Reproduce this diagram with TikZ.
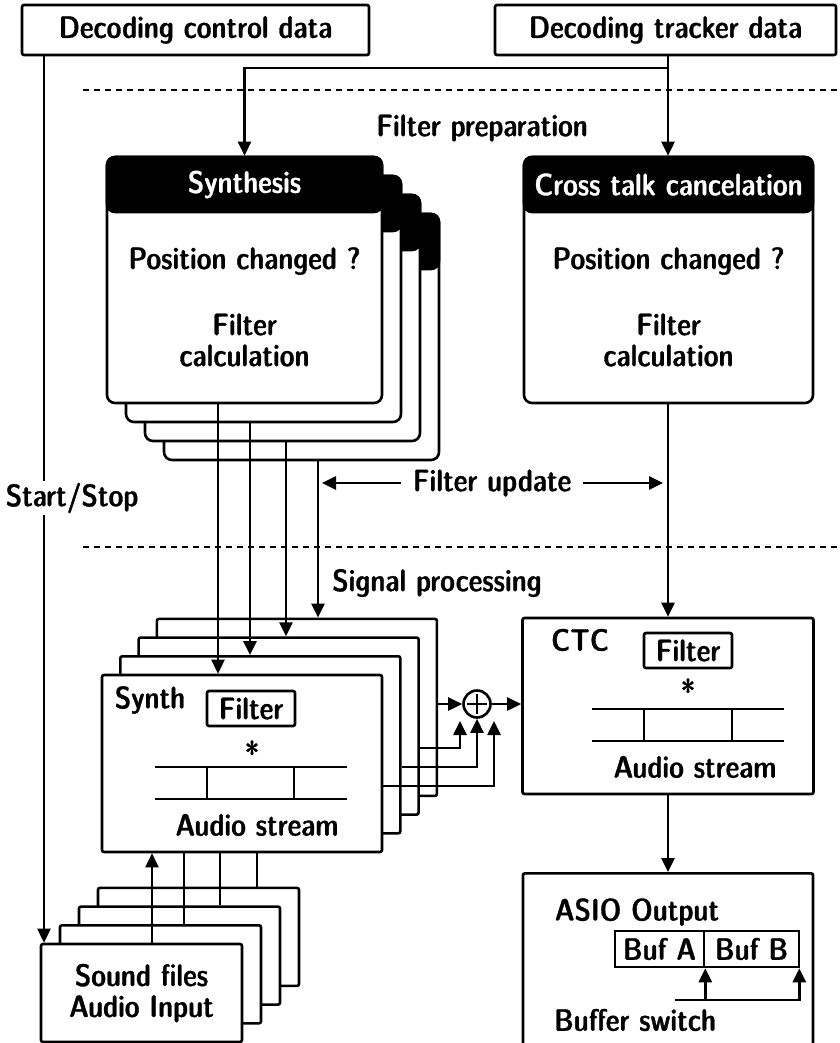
\documentclass[tikz,border=0pt]{standalone}
\usepackage{fontspec}
\newfontfamily\demicond[FakeBold=1]{lmsansdemicond10-regular.otf}
\usetikzlibrary{arrows.meta}

\tikzset{
  arr/.style={-{Triangle[length=14pt,width=13pt]}},
  box/.style={draw, fill=white, rounded corners=2pt, inner sep=0pt},
  prepbox/.style={box, rounded corners=8pt, minimum width=#1, minimum height=246pt},
  prephead/.style={draw, fill=black, text=white, rounded corners=8pt, anchor=north,
    inner sep=0pt, minimum width=#1, minimum height=55pt},
  synthbox/.style={box, minimum width=280pt, minimum height=177pt},
  soundbox/.style={box, minimum width=201pt, minimum height=98pt},
  filterbox/.style={box, minimum width=88pt, minimum height=35pt},
  bufbox/.style={box, rounded corners=0pt, minimum height=36pt},
  tag/.style={inner sep=2pt},
  layer/.style={dash pattern=on 6pt off 5pt, line width=1.8pt},
}

\begin{document}
\begin{tikzpicture}[x=1pt, y=-1pt, line width=2.6pt, font=\demicond\fontsize{31}{31}\selectfont]
    \useasboundingbox (0,0) rectangle (839,1043);

    %data sources:
    \node[box, minimum width=347pt, minimum height=50pt] (ctl) at (195.5,30) {Decoding control data};
    \node[box, minimum width=341pt, minimum height=50pt] (trk) at (665.5,30) {Decoding tracker data};

    %layers:
    \draw[layer] (83,90) -- (839,90);
    \draw[layer] (83,547) -- (839,547);
    \node[tag] (prep) at (482,128) {Filter preparation};
    \node[tag] (sigp) at (437,583) {Signal processing};

    %synthesis stack:
    \foreach \i in {3,2,1} {
        \node[prepbox=275pt] (syn\i) at (244.5+19*\i, 280+19*\i) {};
        \node[prephead=275pt] (synh\i) at (syn\i.north) {};
    }
    \node[prepbox=275pt] (syn0) at (244.5,280) {};
    \node[prephead=275pt] (synh0) at (syn0.north) {Synthesis};
    \node[tag] (synq) at (244.5,261) {Position changed ?};
    \node[tag, align=center] (sync) at (244.5,340) {Filter\\calculation};

    %cross talk preparation:
    \node[prepbox=289pt] (ctp) at (668.5,280) {};
    \node[prephead=289pt] (ctph) at (ctp.north) {Cross talk cancelation};
    \node[tag] (ctpq) at (668.5,261) {Position changed ?};
    \node[tag, align=center] (ctpc) at (668.5,340) {Filter\\calculation};

    %tracker feed:
    \coordinate (fork) at (668,68);
    \draw[arr] (trk.south -| fork) -- (ctp.north -| fork);
    \draw[arr] (fork) -| (synh0.north);

    %synth stack:
    \foreach \i in {3,2,1}
        \node[synthbox] (sy\i) at (242+18.3*\i, 763.5-18.7*\i) {};
    \node[synthbox] (sy0) at (242,763.5) {};
    \node[tag] (syl) at (150,700) {Synth};
    \node[filterbox] (syf) at (251,708.5) {Filter};
    \node[tag] (sys) at (252,752) {*};
    \draw (155,767) -- (347,767) (155,799) -- (347,799) (207,767) -- (207,799) (294,767) -- (294,799);
    \node[tag] (sya) at (257,825) {Audio stream};

    %sound stack:
    \foreach \i in {3,2,1}
        \node[soundbox] (snd\i) at (141.5+19*\i, 993-18.7*\i) {};
    \node[soundbox, align=center] (snd0) at (141.5,993) {Sound files\\Audio Input};
    \draw[arr] (snd0.north -| 152,0) -- (sy0.south -| 152,0);
    \foreach \i/\x in {1/184,2/220,3/257}
        \draw (snd\i.north -| \x,0) -- (sy0.south -| \x,0);

    %control line:
    \draw[arr] (ctl.south -| 44,0) -- (snd0.north -| 44,0);
    \node[tag, fill=white] (ss) at (72,498) {Start/Stop};

    %filter update lines:
    \foreach \i/\x in {0/218,1/250,2/286,3/318}
        \draw[arr] (syn\i.south -| \x,0) -- (sy\i.north -| \x,0);

    %CTC:
    \node[box, minimum width=291pt, minimum height=176pt] (ctc) at (668,706) {};
    \node[tag] (ctl2) at (580,640) {CTC};
    \node[filterbox] (ctf) at (688,650.5) {Filter};
    \node[tag] (cts) at (688,690) {*};
    \draw (592,709) -- (784,709) (592,741) -- (784,741) (644,709) -- (644,741) (732,709) -- (732,741);
    \node[tag] (cta) at (695,767) {Audio stream};
    \draw[arr] (ctp.south -| ctc.north) -- (ctc.north);

    \node[tag] (fupd) at (492,483) {Filter update};
    \draw[arr, shorten <=8pt, shorten >=4pt] (fupd.west) -- (fupd.west -| 318,0);
    \draw[arr, shorten <=8pt, shorten >=5pt] (fupd.east) -- (fupd.east -| ctc.north);

    %sum:
    \node[circle, draw, fill=white, minimum size=27pt, inner sep=0pt] (sum) at (477,704) {};
    \draw ([yshift=-10pt]sum.center) -- ([yshift=10pt]sum.center)
          ([xshift=-10pt]sum.center) -- ([xshift=10pt]sum.center);
    \coordinate (in2) at (460,721);
    \coordinate (in0) at (494,721);
    \draw[arr] (sum.west -| sy3.east) -- (sum.west);
    \draw[arr] (sy2.east |- 0,748) -| (in2);
    \draw[arr] (sy1.east |- 0,767) -| (sum.south);
    \draw[arr] (sy0.east |- 0,786) -| (in0);
    \draw[arr] (sum.east) -- (sum.east -| ctc.west);

    %ASIO:
    \node[box, minimum width=290pt, minimum height=190pt, anchor=north] (asio) at (668,872) {};
    \draw[arr] (ctc.south) -- (asio.north);
    \node[tag] (asl) at (637,912) {ASIO Output};
    \node[bufbox, minimum width=89pt] (bufa) at (659.5,949) {Buf A};
    \node[bufbox, minimum width=95pt] (bufb) at (751.5,949) {Buf B};
    \coordinate (sw) at (675,1000);
    \draw[arr] (sw) -| ([xshift=-1pt]bufb.south east);
    \draw[arr] (sw -| bufa.south east) -- (bufa.south east);
    \node[tag] (bsw) at (635,1020) {Buffer switch};

\end{tikzpicture}
\end{document}
